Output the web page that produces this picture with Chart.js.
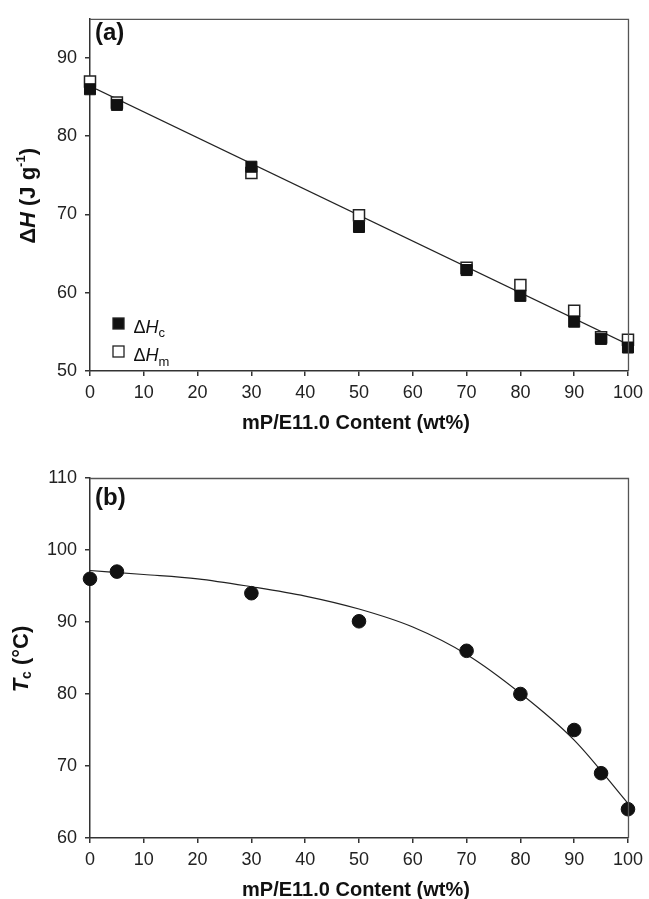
<!DOCTYPE html>
<html>
<head>
<meta charset="utf-8">
<script src="https://cdn.jsdelivr.net/npm/chart.js@4"></script>
<style>
  body { margin: 0; background: #fff; }
  #wrapA { position: absolute; left: 0; top: 0; width: 649px; height: 440px; }
  #wrapB { position: absolute; left: 0; top: 440px; width: 649px; height: 459px; }
</style>
</head>
<body>
<div id="wrapA"><canvas id="chartA" width="649" height="440"></canvas></div>
<div id="wrapB"><canvas id="chartB" width="649" height="459"></canvas></div>
<script>
// 數據
const content = [0, 5, 30, 50, 70, 80, 90, 95, 100];
const dHc = [86, 84, 76.1, 68.4, 62.9, 59.6, 56.3, 54.1, 53];
const dHm = [87, 84.3, 75.3, 69.9, 63.2, 61.0, 57.7, 54.3, 54.0];
const dHfitX = [0, 100];
const dHfitY = [86.4, 53.4];
const tc = [96, 97, 94, 90.1, 86, 80, 75, 69, 64];
const tcFitX = [0, 10, 20, 30, 40, 50, 60, 70, 80, 90, 100];
const tcFitY = [97.15, 96.6, 96.0, 94.9, 93.6, 91.8, 89.3, 85.5, 80.1, 73.6, 64.8];
const xTicks = [0, 10, 20, 30, 40, 50, 60, 70, 80, 90, 100];

const FONT = "'Liberation Sans', Arial, sans-serif";
const pts = (xs, ys) => xs.map((x, i) => ({ x: x, y: ys[i] }));

// 多字型文字 (斜體, 上下標)
function drawRich(ctx, parts, x, y, rotate, align) {
    ctx.save();
    ctx.translate(x, y);
    if (rotate) ctx.rotate(-Math.PI / 2);
    ctx.textBaseline = 'alphabetic';
    ctx.textAlign = 'left';
    let w = 0;
    parts.forEach(p => { ctx.font = p[1] + ' ' + FONT; w += ctx.measureText(p[0]).width; });
    let cx = align === 'left' ? 0 : -w / 2;
    parts.forEach(p => {
        ctx.font = p[1] + ' ' + FONT;
        ctx.fillText(p[0], cx, p[2] || 0);
        cx += ctx.measureText(p[0]).width;
    });
    ctx.restore();
}

const deco = {
    id: 'deco',
    afterDraw(chart, args, opts) {
        const ctx = chart.ctx;
        const a = chart.chartArea;
        ctx.save();
        // 上方與右方框線
        ctx.strokeStyle = '#555';
        ctx.lineWidth = 1.3;
        ctx.beginPath();
        ctx.moveTo(a.left, a.top + 0.5);
        ctx.lineTo(a.right + 0.5, a.top + 0.5);
        ctx.lineTo(a.right + 0.5, a.bottom);
        ctx.stroke();
        ctx.fillStyle = '#111';
        // 面板標籤
        ctx.font = 'bold 24px ' + FONT;
        ctx.textBaseline = 'middle';
        ctx.fillText(opts.panel, 95, opts.panelY);
        // 座標軸標題
        drawRich(ctx, [['mP/E11.0 Content (wt%)', 'bold 20px']], (a.left + a.right) / 2 - 3, opts.xTitleY, false);
        drawRich(ctx, opts.yTitle, opts.yTitleX, (a.top + a.bottom) / 2 + 1, true);
        // 圖例
        if (opts.legend) {
            opts.legend.forEach(l => {
                ctx.fillStyle = l.fill;
                ctx.strokeStyle = '#222';
                ctx.lineWidth = 1.3;
                ctx.fillRect(l.x - 5.5, l.y - 5.5, 11, 11);
                ctx.strokeRect(l.x - 5.5, l.y - 5.5, 11, 11);
                ctx.fillStyle = '#111';
                drawRich(ctx, l.text, l.x + 15, l.y + 9, false, 'left');
            });
        }
        ctx.restore();
    }
};

function axisX(h) {
    return {
        type: 'linear', min: 0, max: 100,
        afterBuildTicks: s => { s.ticks = xTicks.map(v => ({ value: v })); },
        ticks: { color: '#222', font: { size: 18, family: FONT }, padding: 6, maxRotation: 0, autoSkip: false },
        grid: { drawOnChartArea: false, drawTicks: true, tickLength: 5, color: '#333', lineWidth: 1.5 },
        border: { color: '#333', width: 1.5 },
        afterFit: s => { s.height = h; }
    };
}
function axisY(min, max) {
    return {
        type: 'linear', min: min, max: max,
        ticks: { stepSize: 10, includeBounds: false, color: '#222', font: { size: 18, family: FONT }, padding: 8 },
        grid: { drawOnChartArea: false, drawTicks: true, tickLength: 5, color: '#333', lineWidth: 1.5 },
        border: { color: '#333', width: 1.5 },
        afterFit: s => { s.width = 90; }
    };
}

// (a) 熱焓
new Chart(document.getElementById('chartA').getContext('2d'), {
    type: 'scatter',
    data: {
        datasets: [{
            label: 'dHc',
            data: pts(content, dHc),
            pointStyle: 'rect', pointRadius: 7.8, pointHoverRadius: 7.8,
            backgroundColor: '#111', borderColor: '#111', borderWidth: 1,
            clip: false
        }, {
            label: 'dHm',
            data: pts(content, dHm),
            pointStyle: 'rect', pointRadius: 7.8, pointHoverRadius: 7.8,
            backgroundColor: '#fff', borderColor: '#222', borderWidth: 1.5,
            clip: false
        }, {
            label: 'fit',
            data: pts(dHfitX, dHfitY),
            showLine: true, pointRadius: 0,
            borderColor: '#222', borderWidth: 1.2
        }]
    },
    options: {
        responsive: false, animation: false, devicePixelRatio: 1,
        layout: { padding: { left: 0, right: 17, top: 11, bottom: 0 } },
        scales: { x: axisX(69), y: axisY(50, 95) },
        plugins: {
            legend: { display: false }, tooltip: { enabled: false },
            deco: {
                panel: '(a)', panelY: 33, xTitleY: 429, yTitleX: 35,
                yTitle: [['Δ', 'bold 22px'], ['H', 'italic bold 22px'], [' (J g', 'bold 22px'], ['-1', 'bold 13px', -10], [')', 'bold 22px']],
                legend: [
                    { x: 118.5, y: 323.5, fill: '#111', text: [['Δ', '18px'], ['H', 'italic 18px'], ['c', '13px', 4]] },
                    { x: 118.5, y: 351.5, fill: '#fff', text: [['Δ', '18px'], ['H', 'italic 18px'], ['m', '13px', 5]] }
                ]
            }
        }
    },
    plugins: [deco]
});

// (b) 結晶溫度
new Chart(document.getElementById('chartB').getContext('2d'), {
    type: 'scatter',
    data: {
        datasets: [{
            label: 'Tc',
            data: pts(content, tc),
            pointStyle: 'circle', pointRadius: 6.8, pointHoverRadius: 6.8,
            backgroundColor: '#111', borderColor: '#111', borderWidth: 1,
            clip: false
        }, {
            label: 'fit',
            data: pts(tcFitX, tcFitY),
            showLine: true, pointRadius: 0,
            cubicInterpolationMode: 'monotone',
            borderColor: '#222', borderWidth: 1.2
        }]
    },
    options: {
        responsive: false, animation: false, devicePixelRatio: 1,
        layout: { padding: { left: 0, right: 17, top: 38, bottom: 0 } },
        scales: { x: axisX(61), y: axisY(60, 110) },
        plugins: {
            legend: { display: false }, tooltip: { enabled: false },
            deco: {
                panel: '(b)', panelY: 58, xTitleY: 456, yTitleX: 28,
                yTitle: [['T', 'italic bold 22px'], ['c', 'bold 14px', 3], [' (°C)', 'bold 22px']]
            }
        }
    },
    plugins: [deco]
});
</script>
</body>
</html>
